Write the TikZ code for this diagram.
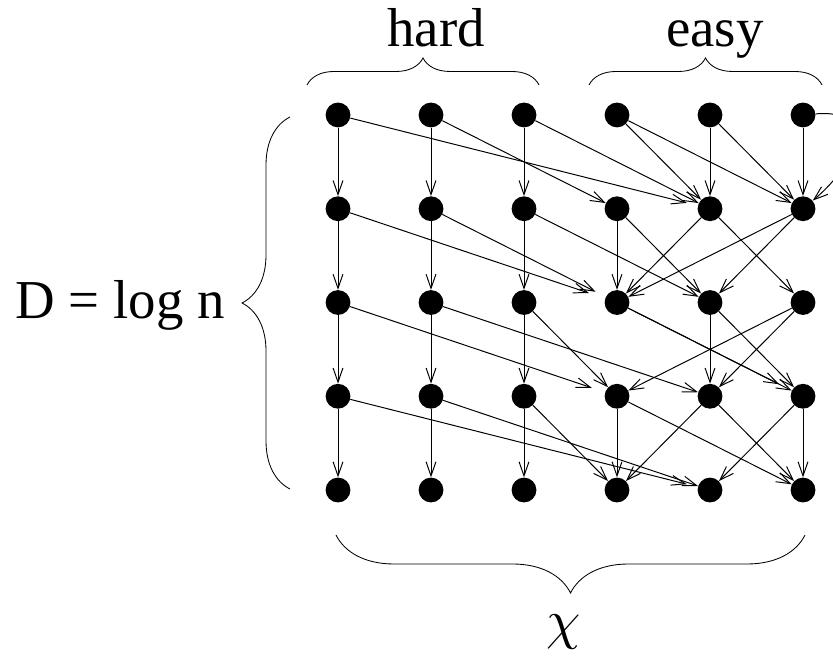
\documentclass[tikz,border=0pt]{standalone}
\usepackage{graphicx}
\usepackage{fontspec}
\setmainfont{Liberation Serif}
\usetikzlibrary{positioning, calc, arrows.meta, decorations.pathreplacing}

\tikzset{
    dot/.style={circle, fill=black, minimum size=0.62cm, inner sep=0pt},
    edge/.style={-{Straight Barb[length=10pt,width=7pt]}, line width=0.7pt},
    farEdge/.style={edge, shorten >=8pt},
    bracket/.style={decorate, line width=0.6pt},
    lbl/.style={font=\fontsize{39}{40}\selectfont, inner sep=0pt, anchor=base}
}

\begin{document}
\begin{tikzpicture}

    \useasboundingbox (0,0) rectangle (20.825,16.525);

    % Grid of states: columns 1-3 hard, 4-6 easy
    \foreach \c in {1,...,6}
        \foreach \r in {1,...,5}
            \node[dot] (n\c\r) at ({8.45+(\c-1)*2.325}, {13.65-(\r-1)*2.344}) {};

    % Hard columns: straight down
    \foreach \c in {1,2,3}
        \foreach \r/\s in {1/2,2/3,3/4,4/5}
            \draw[edge] (n\c\r) -- (n\c\s);

    % Hard columns: long jumps into the easy part
    \draw[farEdge] (n11) -- (n52);
    \draw[edge] (n21) -- (n42);
    \draw[edge] (n31) -- (n52);
    \draw[farEdge, shorten >=12pt] (n12) -- (n43);
    \draw[farEdge] (n22) -- (n43);
    \draw[edge] (n32) -- (n53);
    \draw[farEdge, shorten >=10pt] (n13) -- (n44);
    \draw[edge] (n23) -- (n54);
    \draw[edge] (n33) -- (n44);
    \draw[farEdge] (n14) -- (n55);
    \draw[edge] (n24) -- (n55);
    \draw[edge] (n34) -- (n45);

    % Easy columns
    \foreach \a/\b in {41/52, 41/62, 51/52, 51/62, 61/62,
                       42/43, 42/53, 52/43, 52/63, 62/43, 62/53,
                       43/64, 53/54, 53/64, 63/44, 63/54,
                       44/45, 44/65, 54/45, 54/65, 64/55, 64/65}
        \draw[edge] (n\a) -- (n\b);
    \draw[farEdge, shorten >=10pt] (n43) -- (n64);
    \draw[edge] (n61) to[out=5, in=40, looseness=1.8] (n62);

    % Labels
    \node[lbl] (hard) at (10.9,15.35) {hard};
    \node[lbl] (easy) at (17.875,15.35) {easy};
    \node[lbl] (depth) at (3.0,8.55) {D = log n};
    \node[lbl, font=\normalsize] (chi) at (14.1,0.55) {\scalebox{3.9}{$\chi$}};

    % Braces
    \draw[bracket, decoration={brace, amplitude=0.675cm}] (7.675,14.4) -- (13.475,14.4);
    \draw[bracket, decoration={brace, amplitude=0.675cm}] (14.725,14.4) -- (20.55,14.4);
    \draw[bracket, decoration={brace, amplitude=1.2cm}] (7.25,4.3) -- (7.25,13.6);
    \draw[bracket, decoration={brace, amplitude=1.45cm}] (20.125,3.15) -- (8.4,3.15);

\end{tikzpicture}
\end{document}
